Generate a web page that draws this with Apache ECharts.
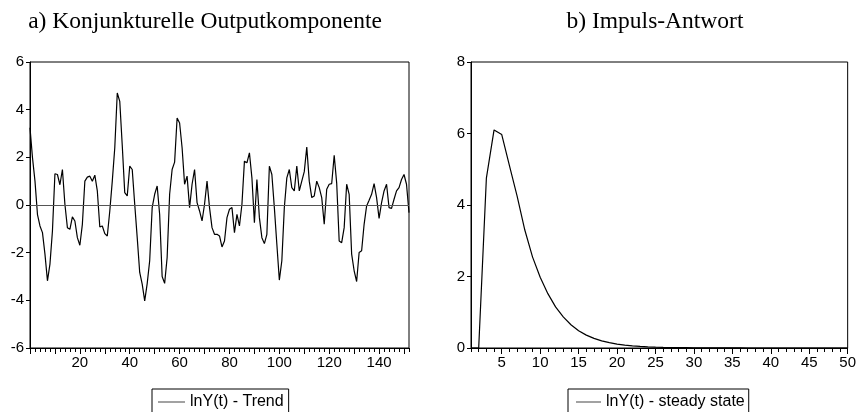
<!DOCTYPE html>
<html>
<head>
<meta charset="utf-8">
<script src="https://cdn.jsdelivr.net/npm/echarts@6/dist/echarts.min.js"></script>
<style>
  html, body { margin: 0; padding: 0; background: #fff; }
  #chart { width: 859px; height: 412px; }
</style>
</head>
<body>
<div id="chart"></div>
<script>
// Cyclical output component, observations 0..152
const cycleValues = [
  3.24, 1.98, 1.0, -0.4, -0.88, -1.16, -2.06, -3.18, -2.48, -1.09,
  1.31, 1.28, 0.85, 1.49, 0.03, -0.95, -1.02, -0.5, -0.67, -1.37,
  -1.69, -0.81, 1.0, 1.17, 1.21, 1.0, 1.25, 0.59, -0.92, -0.88,
  -1.2, -1.3, -0.25, 1.0, 2.4, 4.7, 4.35, 2.5, 0.52, 0.38,
  1.63, 1.49, 0.03, -1.37, -2.83, -3.32, -4.02, -3.3, -2.34, -0.11,
  0.45, 0.8, -0.4, -3.0, -3.29, -2.2, 0.45, 1.49, 1.8, 3.65,
  3.44, 2.4, 0.87, 1.21, -0.11, 0.87, 1.49, 0.1, -0.25, -0.67,
  0.03, 1.0, -0.11, -0.95, -1.23, -1.23, -1.3, -1.76, -1.51, -0.53,
  -0.18, -0.11, -1.16, -0.39, -0.88, 0.03, 1.84, 1.77, 2.19, 1.14,
  -0.74, 1.07, -0.53, -1.37, -1.62, -1.23, 1.63, 1.28, -0.11, -1.65,
  -3.15, -2.34, -0.11, 1.14, 1.49, 0.73, 0.59, 1.63, 0.59, 1.0,
  1.4, 2.43, 1.0, 0.31, 0.38, 1.0, 0.73, 0.31, -0.81, 0.66,
  0.87, 0.9, 2.09, 0.92, -1.51, -1.58, -0.95, 0.87, 0.45, -2.06,
  -2.76, -3.21, -1.99, -1.92, -0.81, -0.04, 0.2, 0.45, 0.9, 0.31,
  -0.56, 0.1, 0.59, 0.87, -0.11, -0.14, 0.24, 0.59, 0.73, 1.07,
  1.28, 0.87, -0.32
];

// Impulse response, periods 1..50
const responseValues = [
  0, 0, 4.75, 6.1, 5.97, 5.1, 4.25, 3.3, 2.55, 1.98,
  1.52, 1.15, 0.87, 0.65, 0.48, 0.36, 0.27, 0.2, 0.15, 0.11,
  0.08, 0.06, 0.045, 0.034, 0.025, 0.019, 0.014, 0.01, 0.008, 0.006,
  0.004, 0.003, 0.002, 0.002, 0.001, 0.001, 0, 0, 0, 0,
  0, 0, 0, 0, 0, 0, 0, 0, 0, 0
];

const cycleXLabels = [20, 40, 60, 80, 100, 120, 140];
const cycleMajorTicks = [0, 10, 20, 30, 40, 50, 60, 70, 80, 90, 100, 110, 120, 130, 140, 150];
const responseXLabels = [5, 10, 15, 20, 25, 30, 35, 40, 45, 50];
const responseMajorTicks = [5, 10, 15, 20, 25, 30, 35, 40, 45, 50];

const titles = ['a) Konjunkturelle Outputkomponente', 'b) Impuls-Antwort'];
const legendNames = ['lnY(t) - Trend', 'lnY(t) - steady state'];

const cycleData = cycleValues.map((v, i) => [i, v]);
const responseData = responseValues.map((v, i) => [i + 1, v]);

const sans = 'Liberation Sans, Arial, sans-serif';
const serif = 'Liberation Serif, Times New Roman, serif';
const labelStyle = { color: '#000', fontFamily: sans, fontSize: 15 };

function baseX(gridIndex, min, max, interval, labels) {
  return {
    type: 'value', gridIndex, min, max, interval,
    axisLine: { show: true, onZero: false, lineStyle: { color: '#000', width: 1 } },
    axisTick: { show: true, length: 4, inside: false, lineStyle: { color: '#000' } },
    axisLabel: Object.assign({ customValues: labels, margin: 7 }, labelStyle),
    splitLine: { show: false }
  };
}
function majorX(gridIndex, min, max, ticks) {
  return {
    type: 'value', gridIndex, min, max, position: 'bottom',
    axisLine: { show: false, onZero: false },
    axisTick: { show: true, length: 6, customValues: ticks, lineStyle: { color: '#000' } },
    axisLabel: { show: false },
    splitLine: { show: false }
  };
}
function baseY(gridIndex, min, max) {
  return {
    type: 'value', gridIndex, min, max, interval: 2,
    axisLine: { show: true, lineStyle: { color: '#000', width: 1 } },
    axisTick: { show: true, length: 4, lineStyle: { color: '#000' } },
    axisLabel: Object.assign({ margin: 6 }, labelStyle),
    splitLine: { show: false }
  };
}

const chart = echarts.init(document.getElementById('chart'), null, { renderer: 'canvas' });
chart.setOption({
  animation: false,
  backgroundColor: '#fff',
  title: [
    { text: titles[0], left: 200, top: 5, textAlign: 'center',
      textStyle: { fontFamily: serif, fontSize: 23.5, fontWeight: 'normal', color: '#000' } },
    { text: titles[1], left: 650, top: 5, textAlign: 'center',
      textStyle: { fontFamily: serif, fontSize: 23.5, fontWeight: 'normal', color: '#000' } }
  ],
  grid: [
    { left: 30, top: 62, width: 379, height: 286, show: true, borderColor: '#000', borderWidth: 1 },
    { left: 471, top: 62, width: 377, height: 286, show: true, borderColor: '#000', borderWidth: 1 }
  ],
  xAxis: [
    baseX(0, 0, 152, 2, cycleXLabels),
    majorX(0, 0, 152, cycleMajorTicks),
    baseX(1, 1, 50, 1, responseXLabels),
    majorX(1, 1, 50, responseMajorTicks)
  ],
  yAxis: [
    baseY(0, -6, 6),
    baseY(1, 0, 8)
  ],
  legend: [
    { data: [legendNames[0]], left: 152, top: 389, orient: 'horizontal',
      icon: 'rect', itemWidth: 27, itemHeight: 1, padding: [5, 5, 8, 6],
      borderColor: '#000', borderWidth: 1,
      itemStyle: { color: '#444' },
      textStyle: { color: '#000', fontFamily: sans, fontSize: 16 } },
    { data: [legendNames[1]], left: 568, top: 389, orient: 'horizontal',
      icon: 'rect', itemWidth: 25, itemHeight: 1, padding: [5, 4, 8, 8],
      borderColor: '#000', borderWidth: 1,
      itemStyle: { color: '#444' },
      textStyle: { color: '#000', fontFamily: sans, fontSize: 16 } }
  ],
  series: [
    { name: legendNames[0], type: 'line', xAxisIndex: 0, yAxisIndex: 0,
      data: cycleData, symbol: 'none', lineStyle: { color: '#000', width: 1.2 },
      itemStyle: { color: '#000' },
      markLine: { silent: true, symbol: 'none', label: { show: false },
        lineStyle: { color: '#555', type: 'solid', width: 1 },
        data: [{ yAxis: 0 }] } },
    { name: legendNames[1], type: 'line', xAxisIndex: 2, yAxisIndex: 1,
      data: responseData, symbol: 'none', lineStyle: { color: '#000', width: 1.2 },
      itemStyle: { color: '#000' } }
  ]
});
</script>
</body>
</html>
